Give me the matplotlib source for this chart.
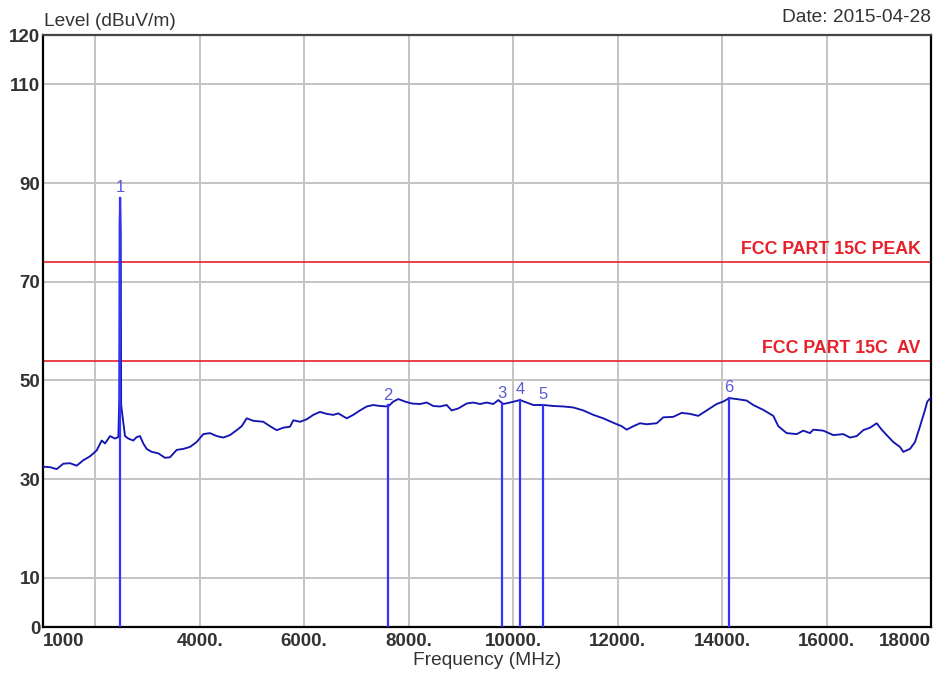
import matplotlib
matplotlib.use("Agg")
import matplotlib.pyplot as plt

plt.rcParams['font.family'] = ['Liberation Sans', 'DejaVu Sans']

# measured trace (MHz, dBuV/m)
freq = [1000, 1134, 1262, 1389, 1517, 1645, 1771, 1900, 2028, 2124, 2187, 2283, 2378, 2442,
        2460, 2468, 2478, 2488, 2496, 2570, 2633, 2729, 2794, 2857, 2920, 2985, 3081, 3207,
        3336, 3431, 3560, 3686, 3814, 3942, 4069, 4197, 4325, 4452, 4580, 4708, 4804, 4900,
        5026, 5217, 5346, 5474, 5600, 5729, 5792, 5920, 6048, 6175, 6303, 6431, 6557, 6653,
        6814, 6940, 7069, 7197, 7323, 7451, 7610, 7706, 7802, 7930, 8058, 8217, 8346, 8472,
        8600, 8728, 8824, 8950, 9111, 9238, 9366, 9494, 9621, 9717, 9812, 9940, 10132, 10260,
        10386, 10578, 10769, 10961, 11152, 11343, 11535, 11726, 11918, 12078, 12174, 12301,
        12429, 12557, 12749, 12875, 13066, 13227, 13386, 13545, 13706, 13897, 14024, 14139,
        14280, 14471, 14598, 14790, 14981, 15077, 15237, 15429, 15555, 15683, 15747, 15939,
        16130, 16321, 16450, 16578, 16704, 16833, 16961, 17056, 17152, 17278, 17406, 17470,
        17598, 17694, 17790, 17885, 17929, 18000]
level = [32.5, 32.4, 32.0, 33.1, 33.2, 32.7, 33.8, 34.6, 35.8, 37.8, 37.2, 38.7, 38.2, 38.5,
         46.0, 82.0, 87.0, 80.0, 45.0, 38.7, 38.2, 37.8, 38.5, 38.7, 37.2, 36.1, 35.5, 35.2,
         34.3, 34.4, 35.9, 36.1, 36.5, 37.5, 39.1, 39.3, 38.7, 38.4, 38.9, 39.9, 40.7, 42.3,
         41.8, 41.6, 40.7, 39.9, 40.4, 40.6, 41.9, 41.6, 42.1, 43.0, 43.6, 43.2, 43.0, 43.3,
         42.3, 43.0, 43.9, 44.7, 45.0, 44.8, 44.7, 45.7, 46.2, 45.7, 45.3, 45.2, 45.5, 44.8,
         44.7, 45.0, 43.9, 44.3, 45.3, 45.5, 45.2, 45.5, 45.2, 46.0, 45.2, 45.5, 46.0, 45.5,
         45.0, 45.0, 44.8, 44.7, 44.5, 43.9, 43.0, 42.3, 41.4, 40.7, 40.0, 40.7,
         41.3, 41.1, 41.3, 42.5, 42.6, 43.4, 43.2, 42.8, 43.9, 45.2, 45.7, 46.4,
         46.2, 45.9, 45.0, 44.0, 42.8, 40.7, 39.3, 39.1, 39.8, 39.3, 40.0, 39.8,
         38.9, 39.1, 38.4, 38.7, 39.9, 40.4, 41.3, 40.0, 38.9, 37.5, 36.5, 35.5,
         36.1, 37.5, 40.7, 44.0, 45.7, 46.5]

marker_freq = [2478, 7610, 9793, 10132, 10566, 14127]
marker_level = [87.0, 44.9, 45.3, 46.0, 45.0, 46.4]
marker_label = ['1', '2', '3', '4', '5', '6']

limit_level = [74, 54]
limit_label = ['FCC PART 15C PEAK', 'FCC PART 15C  AV']

xticks = [1000, 2000, 4000, 6000, 8000, 10000, 12000, 14000, 16000, 18000]
xticklabels = ['1000', '', '4000.', '6000.', '8000.', '10000.', '12000.', '14000.', '16000.', '18000']
yticks = [0, 10, 30, 50, 70, 90, 110, 120]

fig = plt.figure(figsize=(9.48, 6.8), dpi=100)
ax = fig.add_axes([43 / 948, 1 - 627 / 680, 888 / 948, 592 / 680])

ax.plot(freq, level, color='#1515b4', lw=1.35, zorder=3)

for f, lv, lab in zip(marker_freq, marker_level, marker_label):
    ax.plot([f, f], [0, lv], color='#3333ff', lw=1.6, zorder=4)
    ax.text(f, lv + 0.6, lab, color='#5b5bd6', fontsize=12, ha='center', va='bottom', zorder=5)

for lv, lab in zip(limit_level, limit_label):
    ax.axhline(lv, color='#e8202a', lw=1.2, zorder=2)
    ax.text(17800, lv + 0.8, lab, color='#e8202a', fontsize=12.8, fontweight='bold',
            ha='right', va='bottom')

ax.set_xlim(1000, 18000)
ax.set_ylim(0, 120)
ax.set_xticks(xticks)
ax.set_xticklabels(xticklabels, fontsize=13.5, fontweight='bold', color='#333333')
ax.set_yticks(yticks)
ax.set_yticklabels([str(v) for v in yticks], fontsize=13.5, fontweight='bold', color='#333333')
tl = ax.get_xticklabels()
tl[0].set_ha('left')
tl[-1].set_ha('right')
ax.tick_params(length=0, pad=4)
ax.tick_params(axis='y', pad=2)
ax.grid(True, color='#c4c4c4', lw=1.4, zorder=0)
ax.set_axisbelow(True)
for s in ax.spines.values():
    s.set_color('black')
    s.set_linewidth(1.6)
ax.spines['top'].set_color('#444444')

ax.set_xlabel('Frequency (MHz)', fontsize=13.8, color='#333333', labelpad=2)
fig.text(44 / 948, 1 - 21 / 680, 'Level (dBuV/m)', fontsize=13.8, color='#333333', va='center')
fig.text(931 / 948, 1 - 18 / 680, 'Date: 2015-04-28', fontsize=13.8, color='#333333',
         ha='right', va='center')

fig.savefig('out.png', dpi=100)
